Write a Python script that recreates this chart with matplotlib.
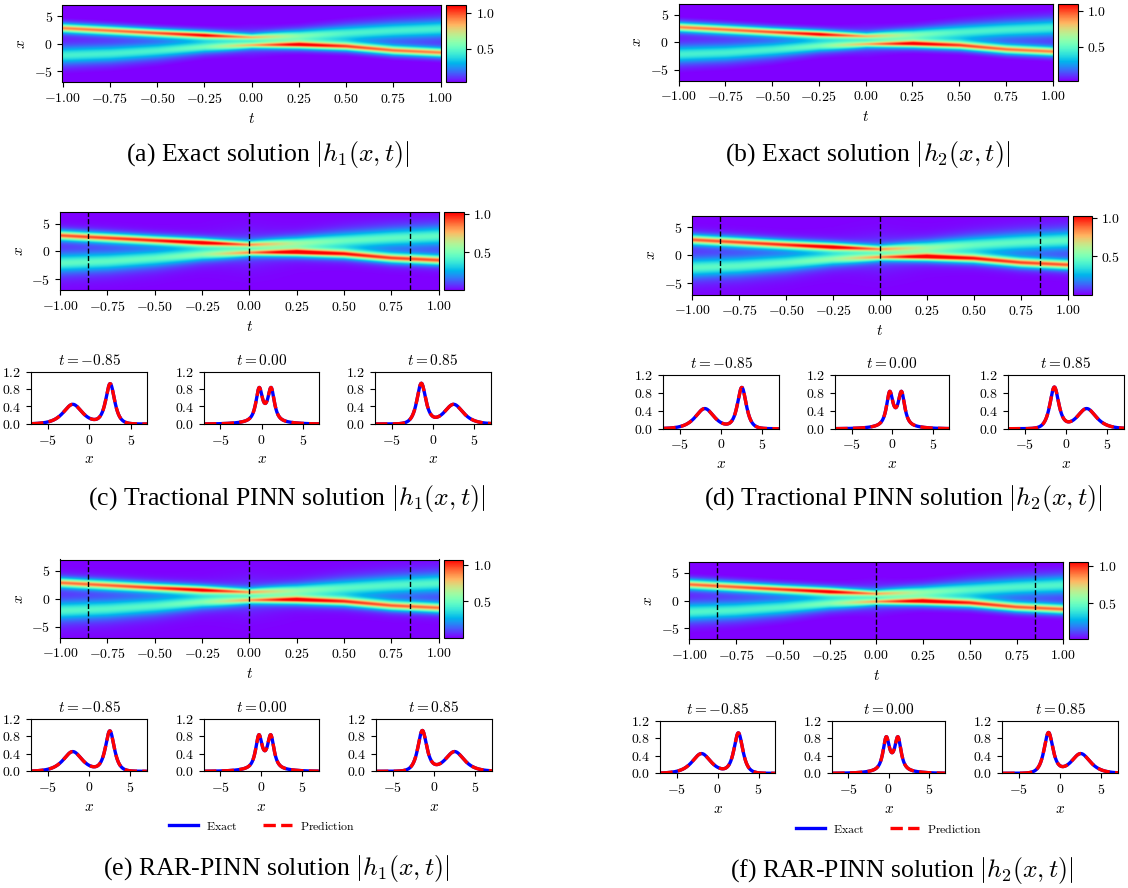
import numpy as np
import matplotlib.pyplot as plt
from matplotlib.ticker import FuncFormatter
from matplotlib.lines import Line2D

plt.rcParams['mathtext.fontset'] = 'cm'
plt.rcParams['font.family'] = ['Liberation Serif', 'DejaVu Serif']

# ridge parameters at a few t knots
T_KNOTS = [-1.0, -0.75, -0.5, -0.25, 0.0, 0.25, 0.5, 0.75, 1.0]
UP_CENTER = [2.8, 2.35, 1.9, 1.5, 1.15, 1.45, 1.9, 2.35, 2.7]
UP_AMP    = [0.9, 0.92, 0.96, 1.05, 0.66, 0.5, 0.46, 0.45, 0.45]
UP_WIDTH  = [0.48, 0.47, 0.44, 0.4, 0.33, 0.65, 0.9, 1.0, 1.05]
LO_CENTER = [-2.15, -1.85, -1.3, -0.65, -0.3, -0.2, -0.5, -1.25, -1.65]
LO_AMP    = [0.45, 0.45, 0.46, 0.5, 0.66, 1.05, 0.96, 0.92, 0.9]
LO_WIDTH  = [1.05, 1.0, 0.9, 0.65, 0.33, 0.4, 0.44, 0.47, 0.48]
HALO_AMP  = [0.0, 0.0, 0.0, 0.05, 0.18, 0.05, 0.0, 0.0, 0.0]
HALO_WIDTH = [1.4, 1.4, 1.4, 1.4, 1.4, 1.4, 1.4, 1.4, 1.4]

SLICE_T = [-0.85, 0.0, 0.85]
SLICE_TITLES = ['$t = -0.85$', '$t = 0.00$', '$t = 0.85$']

# colour limits of the six heatmaps (a)..(f)
CBAR_VMIN = [0.03, 0.03, 0.0, 0.0, 0.0, 0.02]
CBAR_VMAX = [1.10, 1.10, 1.02, 1.03, 1.07, 1.06]
CBAR_TICKS = [0.5, 1.0]

CAPTIONS = [
    '(a) Exact solution $|h_1(x,t)|$',
    '(b) Exact solution $|h_2(x,t)|$',
    '(c) Tractional PINN solution $|h_1(x,t)|$',
    '(d) Tractional PINN solution $|h_2(x,t)|$',
    '(e) RAR-PINN solution $|h_1(x,t)|$',
    '(f) RAR-PINN solution $|h_2(x,t)|$',
]


def sech(z):
    return 1.0 / np.cosh(z)


def field_at(t, x):
    uc = np.interp(t, T_KNOTS, UP_CENTER)
    ua = np.interp(t, T_KNOTS, UP_AMP)
    uw = np.interp(t, T_KNOTS, UP_WIDTH)
    lc = np.interp(t, T_KNOTS, LO_CENTER)
    la = np.interp(t, T_KNOTS, LO_AMP)
    lw = np.interp(t, T_KNOTS, LO_WIDTH)
    ha = np.interp(t, T_KNOTS, HALO_AMP)
    hw = np.interp(t, T_KNOTS, HALO_WIDTH)
    hc = 0.5 * (uc + lc)
    return (ua * sech((x - uc) / uw) + la * sech((x - lc) / lw)
            + ha * sech((x - hc) / hw))


t_grid = np.linspace(-1, 1, 500)
x_grid = np.linspace(-7, 7, 350)
FIELD = np.array([field_at(t, x_grid) for t in t_grid]).T

W, H = 1128, 888
fig = plt.figure(figsize=(W / 100, H / 100), dpi=100)


def rect(l, t, r, b):
    return [l / W, 1 - b / H, (r - l) / W, (b - t) / H]


def mfmt(d):
    return FuncFormatter(lambda v, p: f'${(0.0 if abs(v) < 1e-9 else v):.{d}f}$')


TICK_FS = 10

# pixel layout: heatmap, colorbar, slice axes (or None), caption centre
LAYOUT = [
    dict(hm=(62.5, 5.5, 440.5, 82.5), cb=(446, 5.5, 466, 82.5), sl=None, cap=(268, 155)),
    dict(hm=(678.5, 3.7, 1052.7, 80.7), cb=(1058, 3.7, 1077.7, 80.7), sl=None, cap=(868, 155)),
    dict(hm=(60, 212.5, 438.7, 290.3), cb=(444.3, 212.5, 463.7, 290.3),
         sl=((371.5, 424), [(31, 147.3), (204, 319.3), (375, 491)]), cap=(287, 498)),
    dict(hm=(692.3, 216, 1067.7, 294.7), cb=(1072.7, 216, 1091.7, 294.7),
         sl=((375, 428.7), [(663.3, 778.7), (835.3, 949), (1008, 1124)]), cap=(903, 498)),
    dict(hm=(60, 559.5, 438.7, 637.7), cb=(443.5, 559.5, 463.3, 637.7),
         sl=((718.7, 771.3), [(31.3, 146.7), (204, 318.7), (376, 492)]), cap=(276, 868)),
    dict(hm=(689.3, 561.7, 1063.3, 639.3), cb=(1068.7, 561.7, 1088, 639.3),
         sl=((720.7, 773.3), [(660.3, 775), (832.3, 945), (1002.3, 1118)]), cap=(902, 870)),
]
LEGEND_POS = {4: (262, 826), 5: (889, 829)}

for i, lay in enumerate(LAYOUT):
    ax = fig.add_axes(rect(*lay['hm']))
    im = ax.imshow(FIELD, extent=[-1, 1, -7, 7], origin='lower', aspect='auto',
                   cmap='rainbow', vmin=CBAR_VMIN[i], vmax=CBAR_VMAX[i],
                   interpolation='bilinear')
    ax.set_xticks(np.arange(-1, 1.01, 0.25))
    ax.set_yticks([-5, 0, 5])
    ax.xaxis.set_major_formatter(mfmt(2))
    ax.yaxis.set_major_formatter(mfmt(0))
    ax.tick_params(labelsize=TICK_FS)
    ax.set_xlabel('$t$', fontsize=11)
    ax.set_ylabel('$x$', fontsize=11)
    if lay['sl'] is not None:
        for ts in SLICE_T:
            ax.axvline(ts, color='k', ls='--', lw=1.0)

    cax = fig.add_axes(rect(*lay['cb']))
    cb = fig.colorbar(im, cax=cax, ticks=CBAR_TICKS)
    cb.ax.yaxis.set_major_formatter(mfmt(1))
    cb.ax.tick_params(labelsize=TICK_FS)

    if lay['sl'] is not None:
        (top, bot), xs = lay['sl']
        for j, (l, r) in enumerate(xs):
            sax = fig.add_axes(rect(l, top, r, bot))
            prof = field_at(SLICE_T[j], x_grid)
            sax.plot(x_grid, prof, color='b', lw=2.4, label='Exact')
            sax.plot(x_grid, prof, color='r', lw=2.4, ls='--', label='Prediction')
            sax.set_xlim(-7, 7)
            sax.set_ylim(0, 1.2)
            sax.set_xticks([-5, 0, 5])
            sax.set_yticks([0, 0.4, 0.8, 1.2])
            sax.xaxis.set_major_formatter(mfmt(0))
            sax.yaxis.set_major_formatter(mfmt(1))
            sax.tick_params(labelsize=TICK_FS)
            sax.set_title(SLICE_TITLES[j], fontsize=11, pad=5)
            sax.set_xlabel('$x$', fontsize=11)

    if i in LEGEND_POS:
        lx, ly = LEGEND_POS[i]
        handles = [Line2D([], [], color='b', lw=2.4),
                   Line2D([], [], color='r', lw=2.4, ls='--')]
        fig.legend(handles, [r'$\mathrm{Exact}$', r'$\mathrm{Prediction}$'],
                   loc='center', bbox_to_anchor=(lx / W, 1 - ly / H), ncol=2,
                   frameon=False, fontsize=8.5, handlelength=2.4,
                   handletextpad=0.7, columnspacing=2.2)

    cx, cy = lay['cap']
    fig.text(cx / W, 1 - cy / H, CAPTIONS[i], ha='center', va='center', fontsize=18.5)

fig.savefig('out.png', dpi=100)
